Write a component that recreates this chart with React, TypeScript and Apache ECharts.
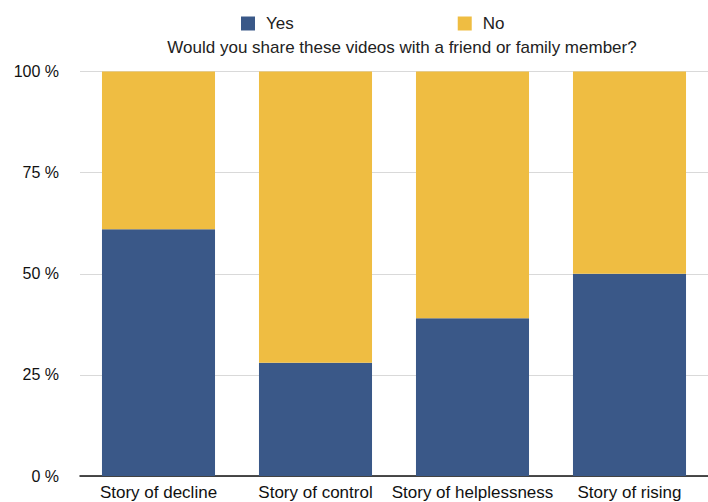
import React, { useEffect, useRef } from "react";
import * as echarts from "echarts";

const categories = ["Story of decline", "Story of control", "Story of helplessness", "Story of rising"];
const yesValues = [61, 28, 39, 50];
const noValues = [39, 72, 61, 50];
const yTicks = [0, 25, 50, 75, 100];
const titleText = "Would you share these videos with a friend or family member?";

export default function App() {
  const ref = useRef<HTMLDivElement>(null);
  useEffect(() => {
    const chart = echarts.init(ref.current!, null, { renderer: "svg" });
    const font = "'Liberation Sans', Arial, sans-serif";
    chart.setOption({
      animation: false,
      textStyle: { fontFamily: font },
      title: {
        text: titleText,
        left: 397,
        textAlign: "center",
        top: 34,
        textStyle: { fontSize: 17, fontWeight: "normal", color: "#222", fontFamily: font },
      },
      legend: {
        data: ["Yes", "No"],
        left: 236,
        top: 10,
        itemWidth: 14,
        itemHeight: 14,
        itemGap: 164,
        icon: "rect",
        textStyle: { fontSize: 17, color: "#222", fontFamily: font, padding: [0, 0, 0, 6] },
      },
      grid: { left: 80, right: 0, top: 71.5, bottom: 26 },
      xAxis: {
        type: "category",
        data: categories,
        axisLine: { show: true, lineStyle: { color: "#111", width: 1.5 } },
        axisTick: { show: false },
        axisLabel: { fontSize: 17, color: "#111", margin: 8, fontFamily: font, interval: 0 },
      },
      yAxis: {
        type: "value",
        min: yTicks[0],
        max: yTicks[yTicks.length - 1],
        interval: 25,
        axisLine: { show: false },
        axisTick: { show: false },
        splitLine: { lineStyle: { color: "#d9d9d9", width: 1 } },
        axisLabel: { fontSize: 16, color: "#111", margin: 21, fontFamily: font, formatter: (v: number) => v + " %" },
      },
      series: [
        {
          name: "Yes",
          type: "bar",
          stack: "s",
          data: yesValues,
          barCategoryGap: "28%",
          itemStyle: { color: "#3a5888" },
        },
        {
          name: "No",
          type: "bar",
          stack: "s",
          data: noValues,
          barCategoryGap: "28%",
          itemStyle: { color: "#efbd42" },
        },
      ],
    });
    return () => chart.dispose();
  }, []);
  return <div ref={ref} style={{ position: "fixed", left: 0, top: 0, width: 708, height: 502, background: "#fff" }} />;
}
